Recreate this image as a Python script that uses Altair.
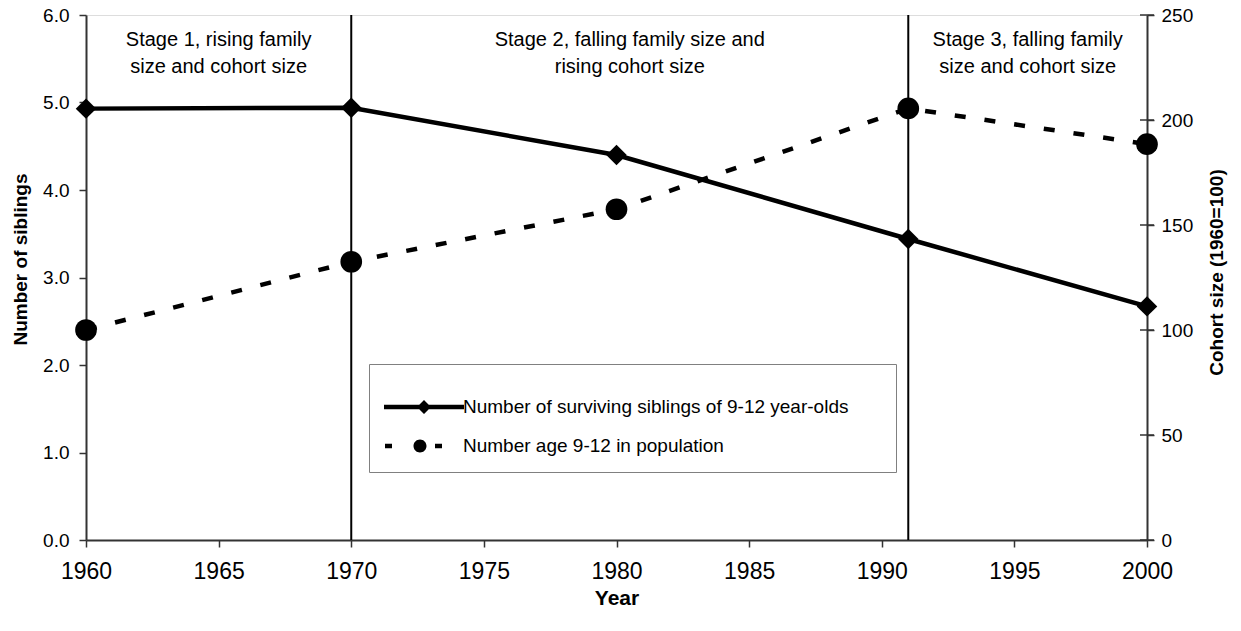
import altair as alt
import pandas as pd

# ---- data ----
years = [1960, 1970, 1980, 1991, 2000]
siblings = [4.93, 4.94, 4.40, 3.44, 2.67]
cohort = [100.0, 132.5, 157.5, 205.5, 188.5]
series_names = [
    "Number of surviving siblings of 9-12 year-olds",
    "Number age 9-12 in population",
]
stage_bounds = [1960, 1970, 1991, 2000]
stage_labels = [
    "Stage 1, rising family\nsize and cohort size",
    "Stage 2, falling family size and\nrising cohort size",
    "Stage 3, falling family\nsize and cohort size",
]
x_ticks = [1960, 1965, 1970, 1975, 1980, 1985, 1990, 1995, 2000]
left_ticks = [0, 1, 2, 3, 4, 5, 6]
right_ticks = [0, 50, 100, 150, 200, 250]

FONT = "Liberation Sans"
AX = "#333333"

df_sib = pd.DataFrame({"year": years, "value": siblings, "series": series_names[0]})
df_coh = pd.DataFrame({"year": years, "value": cohort, "series": series_names[1]})
df_stage = pd.DataFrame({
    "center": [(a + b) / 2 for a, b in zip(stage_bounds[:-1], stage_bounds[1:])],
    "label": stage_labels,
})
df_rules = pd.DataFrame({"year": stage_bounds[1:-1]})
df_rticks = pd.DataFrame({"year": [x_ticks[-1]] * len(right_ticks), "value": right_ticks})
df_empty = pd.DataFrame({"year": pd.Series([], dtype=float),
                         "value": pd.Series([], dtype=float),
                         "series": pd.Series([], dtype=str)})

x_scale = alt.Scale(domain=[1960, 2000], nice=False, zero=False)
x_axis = alt.Axis(values=x_ticks, format="d", title="Year", grid=False, labelFlush=False,
                  tickSize=7, tickWidth=1.5, tickColor=AX, domainColor=AX, domainWidth=2,
                  labelPadding=13, labelFontSize=23, labelFont=FONT, labelColor="black",
                  titleFont=FONT, titleFontSize=21, titleFontWeight="bold", titleColor="black",
                  titleBaseline="top", titleY=47)
x_enc = alt.X("year:Q", scale=x_scale, axis=x_axis)

y_left_scale = alt.Scale(domain=[0, 6], nice=False, zero=True)
y_left_axis = alt.Axis(values=left_ticks, format=".1f", title="Number of siblings", grid=False,
                       orient="left", tickSize=7, tickWidth=1.5, tickColor=AX,
                       domainColor=AX, domainWidth=2, labelPadding=10, labelFontSize=19,
                       labelFont=FONT, labelColor="black", titleFont=FONT, titleFontSize=19,
                       titleFontWeight="bold", titleColor="black", titleAngle=270,
                       titleBaseline="middle", titleAlign="center", titleX=-65.4, titleY=244)
y_right_scale = alt.Scale(domain=[0, 250], nice=False, zero=True)
y_right_axis = alt.Axis(values=right_ticks, format="d", title="Cohort size (1960=100)", grid=False,
                        orient="right", tickSize=7, tickWidth=1.5, tickColor=AX,
                        domainColor=AX, domainWidth=2, labelPadding=7, labelFontSize=19,
                        labelFont=FONT, labelColor="black", titleFont=FONT, titleFontSize=19,
                        titleFontWeight="bold", titleColor="black", titleAngle=270,
                        titleBaseline="middle", titleAlign="center", titleX=69, titleY=257)

yl = alt.Y("value:Q", scale=y_left_scale, axis=y_left_axis)
yr = alt.Y("value:Q", scale=y_right_scale, axis=y_right_axis)

rules = alt.Chart(df_rules).mark_rule(color="black", strokeWidth=2).encode(
    x=alt.X("year:Q", scale=x_scale, axis=x_axis))

stage_text = alt.Chart(df_stage).mark_text(
    font=FONT, fontSize=20, lineHeight=27, align="center", baseline="middle", color="black",
    lineBreak="\n").encode(
    x=alt.X("center:Q", scale=x_scale, axis=x_axis),
    y=alt.value(25),
    text="label:N")

sib_line = alt.Chart(df_sib).mark_line(color="black", strokeWidth=4.5).encode(x=x_enc, y=yl)
sib_pts = alt.Chart(df_sib).mark_point(filled=True, shape="diamond", size=420, color="black",
                                       opacity=1).encode(x=x_enc, y=yl)

# legend symbols: line + marker as filled SVG paths (1 unit = 10 px);
# the trailing empty subpath only widens the legend frame to the reference's size
path_a = "M-4,-0.225H4V0.225H-4Z M-0.7,0L0,-0.7L0.7,0L0,0.7Z M45.6,0Z"
path_b = ("M-3.9,-0.225H-3.2V0.225H-3.9Z M1.1,-0.225H1.8V0.225H1.1Z "
          "M0.25,0A0.65,0.65,0,1,1,-1.05,0A0.65,0.65,0,1,1,0.25,0Z")

legend_layer = alt.Chart(df_empty).mark_point(filled=True, color="black", opacity=1).encode(
    x=x_enc, y=yl,
    shape=alt.Shape("series:N",
                    scale=alt.Scale(domain=series_names, range=[path_a, path_b]),
                    legend=alt.Legend(title=" ", titleFontSize=11, titlePadding=6,
                                      orient="none", legendX=283, legendY=349,
                                      symbolSize=400, symbolStrokeWidth=0, symbolOffset=29,
                                      symbolFillColor="black", symbolStrokeColor="black",
                                      symbolOpacity=1, labelFontSize=19, labelFont=FONT,
                                      labelColor="black", labelLimit=800, labelOffset=29,
                                      padding=16, rowPadding=19, strokeColor="#808080",
                                      fillColor="white", cornerRadius=0)))

coh_line = alt.Chart(df_coh).mark_line(color="black", strokeWidth=4.5,
                                       strokeDash=[11, 19]).encode(x=x_enc, y=yr)
coh_pts = alt.Chart(df_coh).mark_point(filled=True, shape="circle", size=470, color="black",
                                       opacity=1).encode(x=x_enc, y=yr)
# right axis ticks cross the axis line in the reference
rticks = alt.Chart(df_rticks).mark_tick(orient="horizontal", size=14, thickness=1.5,
                                         color=AX, opacity=1).encode(x=x_enc, y=yr)

left = alt.layer(rules, stage_text, sib_line, sib_pts, legend_layer)
right = alt.layer(rticks, coh_line, coh_pts)

chart = alt.layer(left, right).resolve_scale(y="independent").properties(
    width=1061, height=525,
    autosize=alt.AutoSizeParams(type="none"),
    padding={"left": 78, "top": 7, "right": 86, "bottom": 83},
).configure_view(stroke="#808080", strokeWidth=2).configure(background="white")

chart.save("out.html", embed_options={"renderer": "svg", "actions": False})
